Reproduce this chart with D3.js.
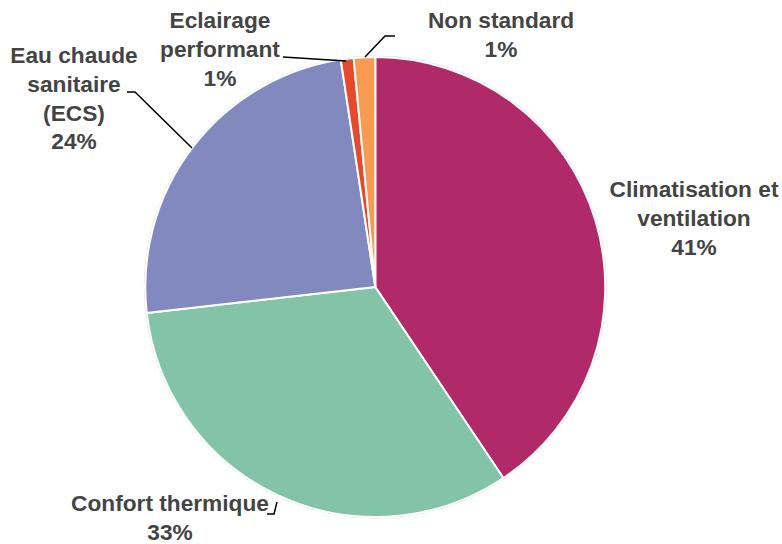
<!DOCTYPE html>
<html><head><meta charset="utf-8">
<script src="https://cdn.jsdelivr.net/npm/d3@7"></script>
<style>body{margin:0;background:#fff}text{font-family:"Liberation Sans",Arial,sans-serif;font-weight:bold;fill:#444;font-size:22.7px}</style>
</head><body>
<svg id="c" width="782" height="544"></svg>
<script>
const categories = ["Climatisation et ventilation","Confort thermique","Eau chaude sanitaire (ECS)","Eclairage performant","Non standard"];
const values = [40.6, 32.6, 24.4, 0.9, 1.5];
const percentLabels = ["41%","33%","24%","1%","1%"];
const colors = ["#B02A6A","#83C4A8","#8189BF","#E64A2D","#F79A52"];
const labelLines = [["Climatisation et","ventilation","41%"],["Confort thermique","33%"],["Eau chaude","sanitaire","(ECS)","24%"],["Eclairage","performant","1%"],["Non standard","1%"]];

const svg = d3.select("#c");
const cx = 375.3, cy = 287, R = 230;
const g = svg.append("g").attr("transform",`translate(${cx},${cy})`);
const pie = d3.pie().sort(null).value(d=>d);
const arcs = pie(values);
const arc = d3.arc().innerRadius(0).outerRadius(R);
g.append("circle").attr("r",R+1).attr("fill","none").attr("stroke","#d9d9d9").attr("stroke-width",1);
g.selectAll("path").data(arcs).join("path").attr("d",arc).attr("fill",(d,i)=>colors[i]).attr("stroke","#fff").attr("stroke-width",2).attr("stroke-linejoin","round");

// label positions (centre x, first line centre y)
const labelPos = [[694,189],[170,503],[74,55],[220,20],[501,20]];
const lh = 28.7;
labelLines.forEach((lines,i)=>{
  const t = svg.append("text").attr("text-anchor","middle");
  lines.forEach((s,j)=>{
    t.append("tspan").attr("x",labelPos[i][0]).attr("y",labelPos[i][1]+j*lh).attr("dy","0.36em").text(s);
  });
});
// leader lines
const leaders = [
  [[127,92],[135,92],[192,148]],
  [[283,57],[346,61]],
  [[365,57],[385,36],[395,36]],
  [[277,502],[274,514],[267,514]]
];
svg.selectAll("path.leader").data(leaders).join("path").attr("class","leader")
  .attr("d",d3.line()).attr("fill","none").attr("stroke","#000").attr("stroke-width",1.5);
</script>
</body></html>
